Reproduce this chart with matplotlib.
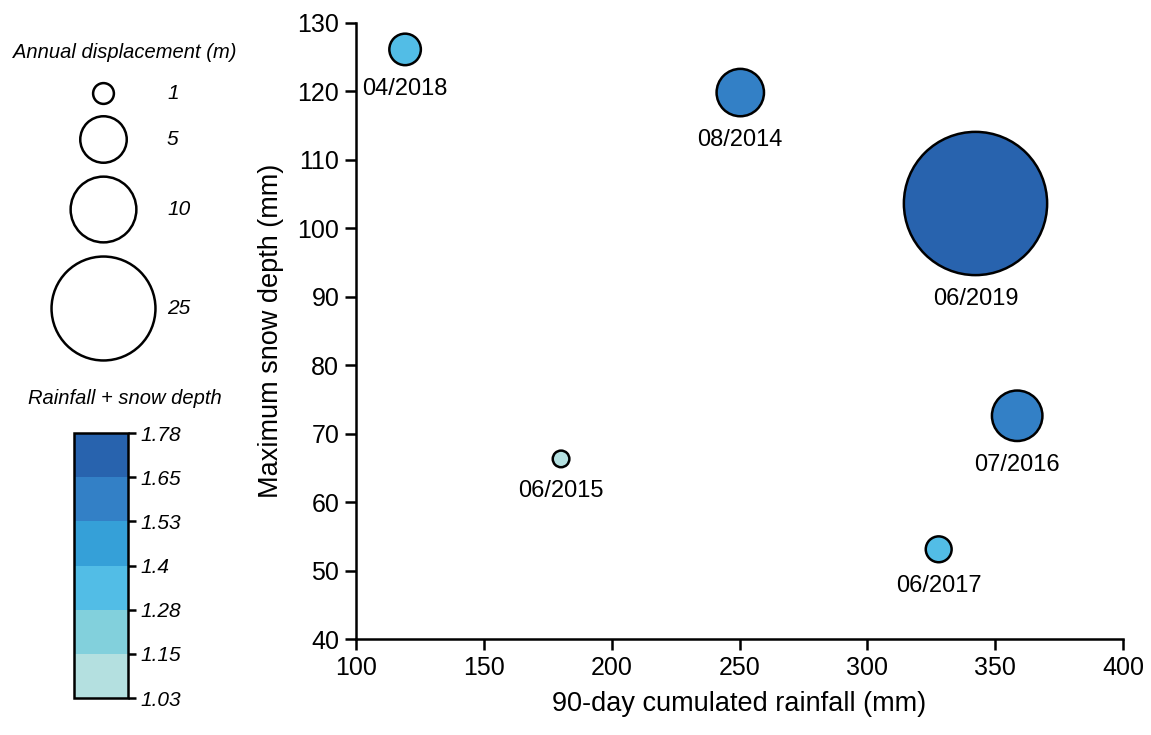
import numpy as np
import matplotlib
matplotlib.use("Agg")
import matplotlib.pyplot as plt
from matplotlib.colors import ListedColormap, BoundaryNorm

plt.rcParams['font.family'] = ['Liberation Sans', 'DejaVu Sans']

# events: 90-day rainfall, max snow depth, annual displacement, combined index
events = ["08/2014", "06/2015", "07/2016", "06/2017", "04/2018", "06/2019"]
rainfall = [250.3, 180.2, 358.6, 327.9, 119.2, 342.3]
snow_depth = [119.8, 66.3, 72.6, 53.1, 126.1, 103.6]
displacement = [5.2, 0.64, 5.9, 1.55, 2.3, 47.5]
rain_snow_index = [1.648, 1.027, 1.576, 1.335, 1.332, 1.775]

legend_sizes = [1, 5, 10, 25]
bin_edges = [1.03, 1.155, 1.28, 1.405, 1.53, 1.655, 1.78]
bin_labels = ["1.03", "1.15", "1.28", "1.4", "1.53", "1.65", "1.78"]
bin_colors = ["#b4e0e0", "#82d0dc", "#52bde6", "#35a0d8", "#3380c6", "#2863ae"]

cmap = ListedColormap(bin_colors)
norm = BoundaryNorm(bin_edges, cmap.N)

K = 224.0  # marker area (pt^2) per metre of displacement


def bubble(v):
    return K * np.asarray(v, dtype=float)


fig = plt.figure(figsize=(11.51, 7.35), dpi=100)

ax = fig.add_axes([0.3093, 0.1306, 0.6664, 0.8385])
ax.scatter(rainfall, snow_depth, s=bubble(displacement), c=rain_snow_index,
           cmap=cmap, norm=norm, edgecolors="black", linewidths=1.8,
           zorder=3, clip_on=False)

for name, x, y, v in zip(events, rainfall, snow_depth, displacement):
    r_pt = np.sqrt(bubble(v)) / 2
    ax.annotate(name, (x, y), textcoords="offset points",
                xytext=(0, -(r_pt + 9)), ha="center", va="top", fontsize=17)

ax.set_xlim(100, 400)
ax.set_ylim(40, 130)
ax.set_xticks(np.arange(100, 401, 50))
ax.set_yticks(np.arange(40, 131, 10))
for side in ["top", "right"]:
    ax.spines[side].set_visible(False)
for side in ["left", "bottom"]:
    ax.spines[side].set_linewidth(1.8)
ax.tick_params(length=8, width=1.8, labelsize=18, pad=4)
ax.set_xlabel("90-day cumulated rainfall (mm)", fontsize=19.5, labelpad=8)
ax.set_ylabel("Maximum snow depth (mm)", fontsize=19.5, labelpad=10)

# size legend, drawn in pixel coordinates
leg = fig.add_axes([0, 0, 1, 1], zorder=-1)
leg.set_xlim(0, 1151)
leg.set_ylim(735, 0)
leg.axis("off")
leg.text(125, 52, "Annual displacement (m)", ha="center", va="center",
         fontsize=14.5, style="italic")
for v, yy in zip(legend_sizes, [93, 139, 209, 308]):
    leg.scatter([103], [yy], s=bubble(v), facecolors="white",
                edgecolors="black", linewidths=1.8)
    leg.text(167, yy, str(v), ha="left", va="center", fontsize=15,
             style="italic")
leg.text(125, 398, "Rainfall + snow depth", ha="center", va="center",
         fontsize=14.5, style="italic")

# colour bar
cax = fig.add_axes([0.0643, 0.0503, 0.0469, 0.3605])
cb = fig.colorbar(plt.cm.ScalarMappable(norm=norm, cmap=cmap), cax=cax,
                  ticks=bin_edges)
cb.ax.set_yticklabels(bin_labels, fontsize=15, style="italic")
cb.outline.set_linewidth(1.8)
cb.ax.tick_params(length=6, width=1.8, pad=3)

fig.savefig("out.png", dpi=100)
